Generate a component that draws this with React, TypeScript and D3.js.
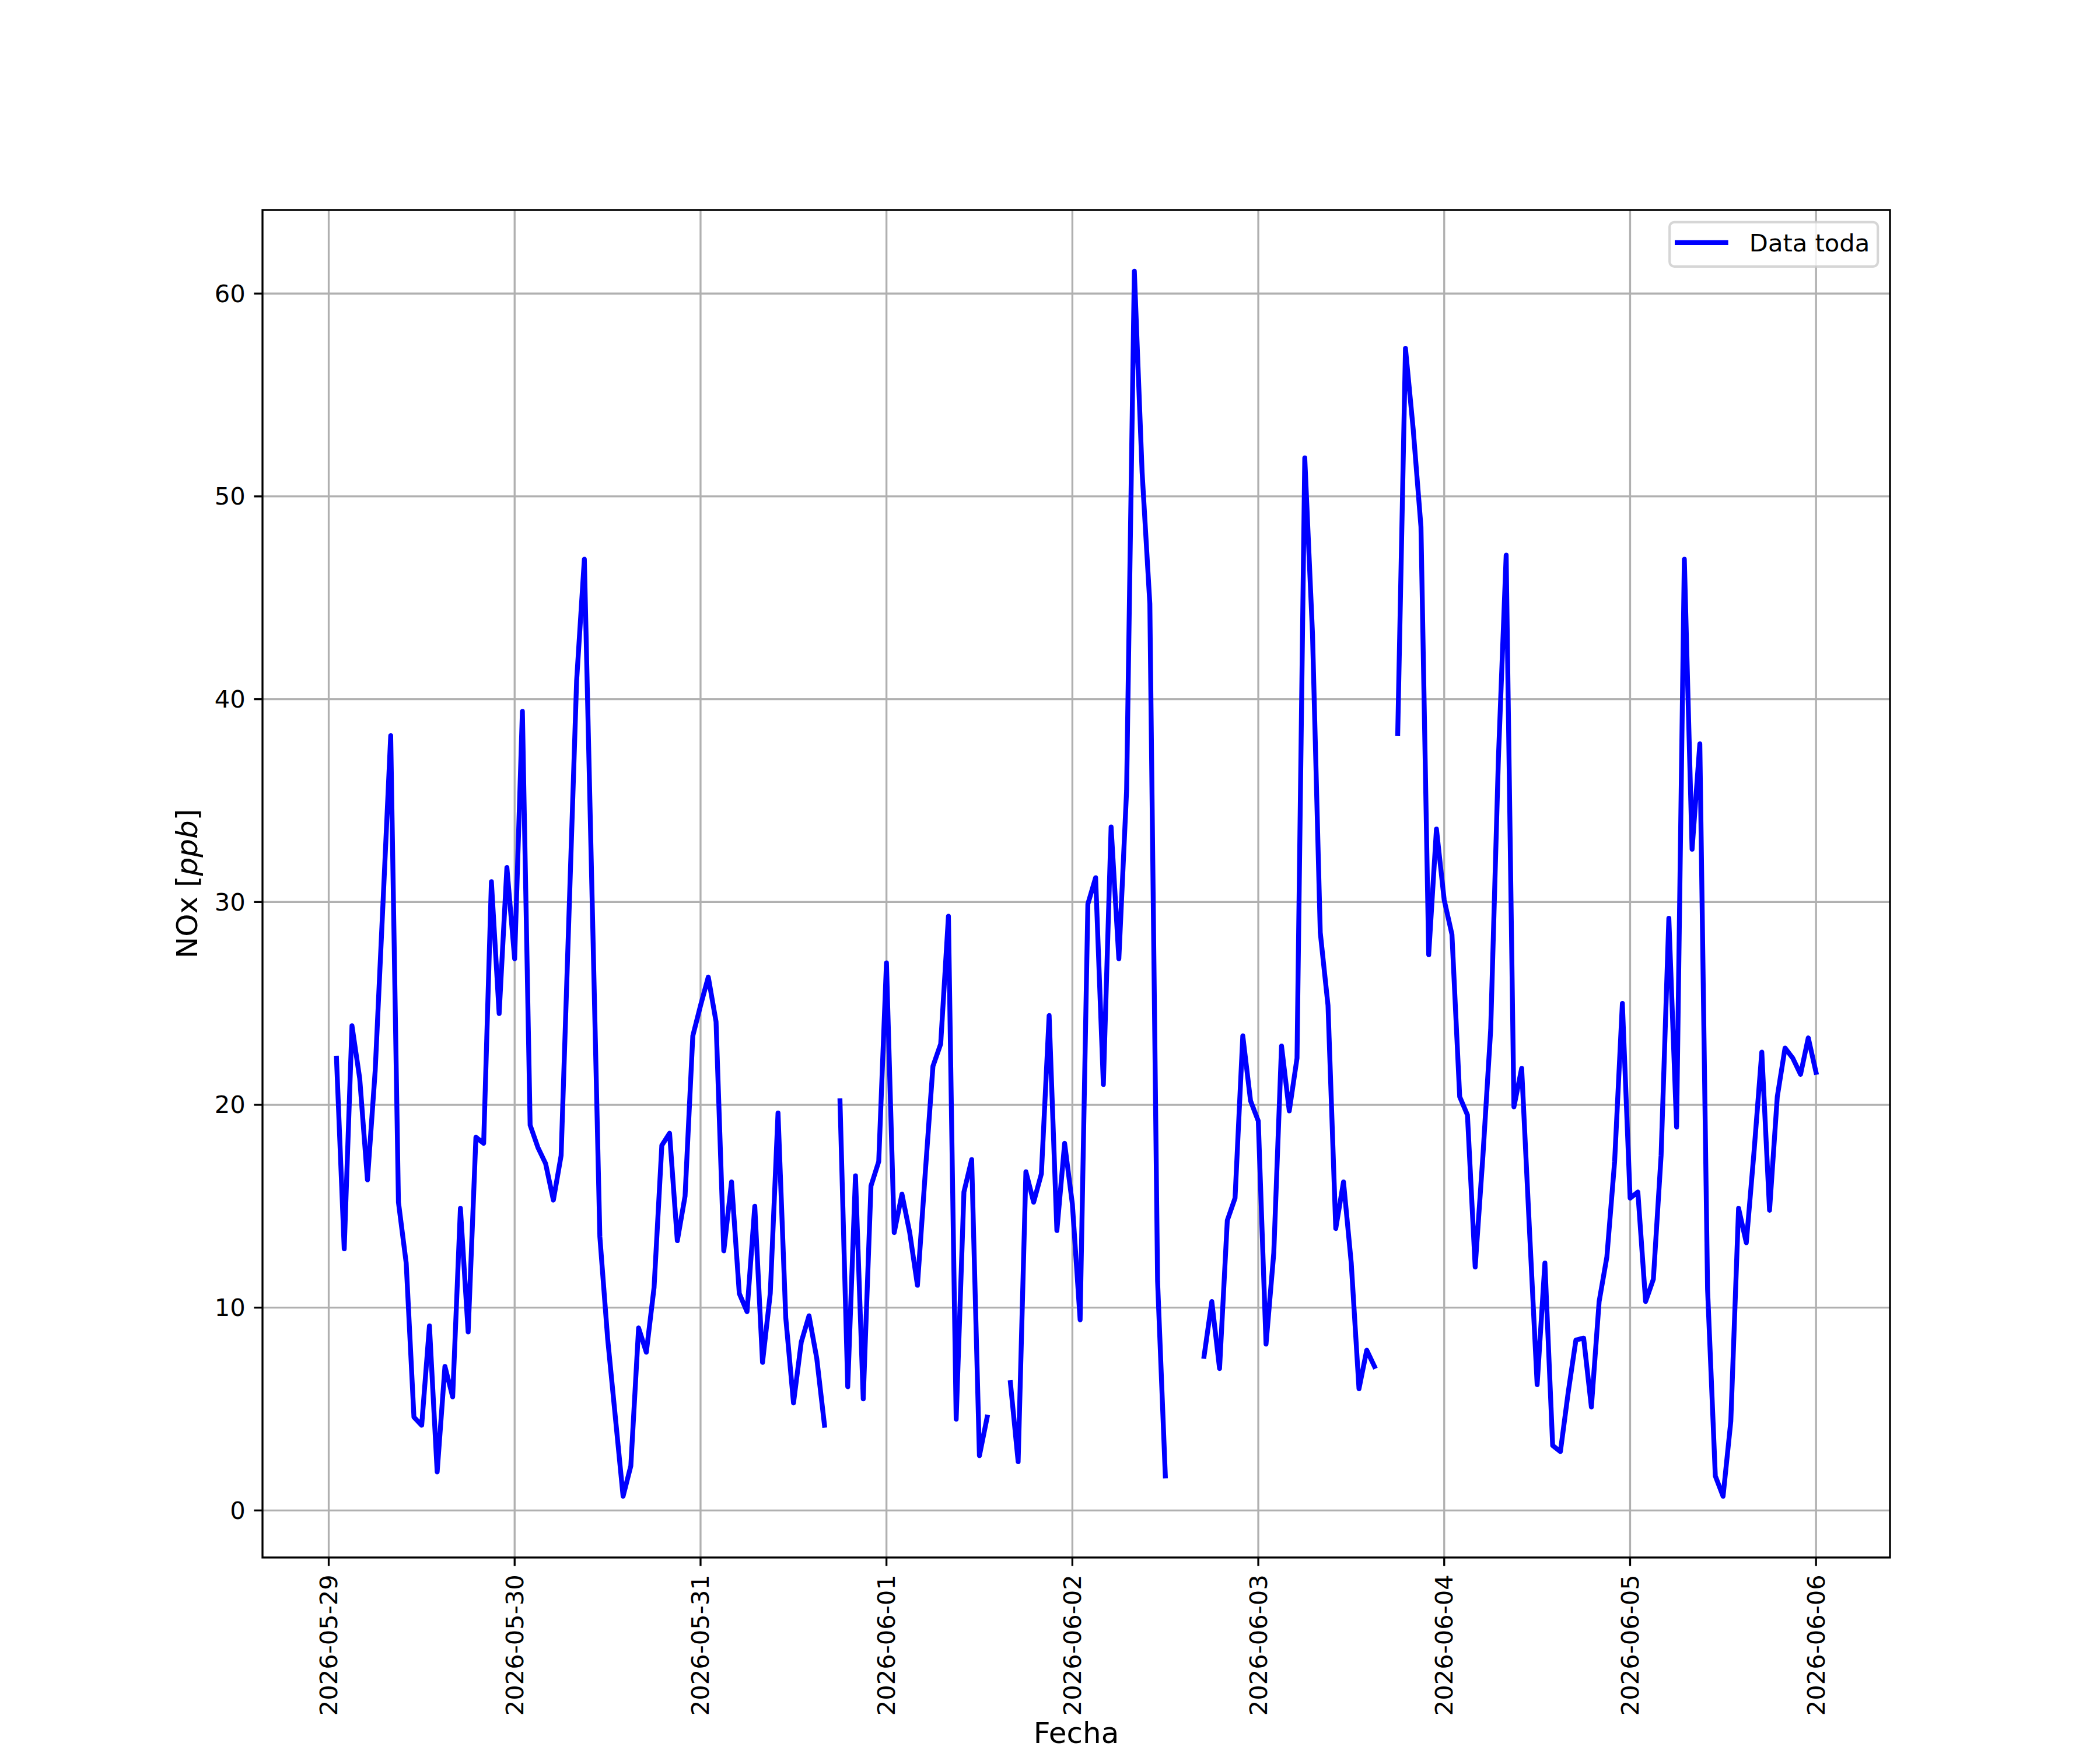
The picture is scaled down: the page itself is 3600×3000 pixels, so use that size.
import React from "react";
import * as d3 from "d3";

// ---- data (hourly NOx, ppb) ----
const START_DAY = "2026-05-29";
const nox_0529 = [null, 22.3, 12.9, 23.9, 21.3, 16.3, 21.7, 29.9, 38.2, 15.2, 12.2, 4.6, 4.2, 9.1, 1.9, 7.1, 5.6, 14.9, 8.8, 18.4, 18.1, 31.0, 24.5, 31.7];
const nox_0530 = [27.2, 39.4, 19.0, 17.9, 17.1, 15.3, 17.5, 29.2, 40.9, 46.9, 30.2, 13.5, 8.5, 4.6, 0.7, 2.2, 9.0, 7.8, 11.0, 18.0, 18.6, 13.3, 15.5, 23.4];
const nox_0531 = [24.9, 26.3, 24.1, 12.8, 16.2, 10.7, 9.8, 15.0, 7.3, 10.7, 19.6, 9.5, 5.3, 8.3, 9.6, 7.5, 4.2, null, 20.2, 6.1, 16.5, 5.5, 16.0, 17.2];
const nox_0601 = [27.0, 13.7, 15.6, 13.7, 11.1, 16.6, 21.9, 23.0, 29.3, 4.5, 15.7, 17.3, 2.7, 4.6, null, null, 6.3, 2.4, 16.7, 15.2, 16.6, 24.4, 13.8, 18.1];
const nox_0602 = [15.1, 9.4, 29.9, 31.2, 21.0, 33.7, 27.2, 35.5, 61.1, 51.2, 44.7, 11.3, 1.7, null, null, null, null, 7.6, 10.3, 7.0, 14.3, 15.4, 23.4, 20.2];
const nox_0603 = [19.2, 8.2, 12.7, 22.9, 19.7, 22.3, 51.9, 43.2, 28.5, 24.9, 13.9, 16.2, 12.2, 6.0, 7.9, 7.1, null, null, 38.3, 57.3, 53.3, 48.5, 27.4, 33.6];
const nox_0604 = [30.1, 28.4, 20.4, 19.5, 12.0, 17.5, 23.7, 37.1, 47.1, 19.9, 21.8, 13.9, 6.2, 12.2, 3.2, 2.9, 5.8, 8.4, 8.5, 5.1, 10.3, 12.5, 17.2, 25.0];
const nox_0605 = [15.4, 15.7, 10.3, 11.4, 17.5, 29.2, 18.9, 46.9, 32.6, 37.8, 10.9, 1.7, 0.7, 4.4, 14.9, 13.2, 17.7, 22.6, 14.8, 20.4, 22.8, 22.3, 21.5, 23.3];
const nox_0606 = [21.6];

const X_TICKS = ["2026-05-29", "2026-05-30", "2026-05-31", "2026-06-01", "2026-06-02", "2026-06-03", "2026-06-04", "2026-06-05", "2026-06-06"];
const Y_TICKS = [0, 10, 20, 30, 40, 50, 60];
const LEGEND_LABEL = "Data toda";
const X_LABEL = "Fecha";

const parseDay = d3.utcParse("%Y-%m-%d");
const allValues: (number | null)[] = [
  ...nox_0529, ...nox_0530, ...nox_0531, ...nox_0601, ...nox_0602,
  ...nox_0603, ...nox_0604, ...nox_0605, ...nox_0606,
];
const t0 = (parseDay(START_DAY) as Date).getTime();
const series = allValues.map((v, i) => ({ date: new Date(t0 + i * 3600 * 1000), v }));

// ---- layout (matplotlib default at 300 dpi, 12x10 in) ----
const W = 3600, H = 3000;
const L = 450, R = 3240, T = 360, B = 2670;
const PT = 300 / 72;
const FONT = "'DejaVu Sans', sans-serif";
const FS = 10 * PT;
const FS_LABEL = 12 * PT;
const TICK = 3.5 * PT;
const PAD = 3.5 * PT;
const LW_AX = 0.8 * PT;
const LW_LINE = 2 * PT;

export default function App() {
  const defined = series.filter((d) => d.v != null);
  const [xmin, xmax] = d3.extent(defined, (d) => d.date.getTime()) as [number, number];
  const [ymin, ymax] = d3.extent(defined, (d) => d.v as number) as [number, number];
  const xm = (xmax - xmin) * 0.05, ym = (ymax - ymin) * 0.05;
  const x = d3.scaleUtc().domain([new Date(xmin - xm), new Date(xmax + xm)]).range([L, R]);
  const y = d3.scaleLinear().domain([ymin - ym, ymax + ym]).range([B, T]);

  const line = d3
    .line<{ date: Date; v: number | null }>()
    .defined((d) => d.v != null)
    .x((d) => x(d.date))
    .y((d) => y(d.v as number));

  const xTicks = X_TICKS.map((s) => ({ s, d: parseDay(s) as Date }));

  // legend geometry
  const legR = R - 0.5 * FS, legT = T + 0.5 * FS;
  const legW = 357, legH = 76;
  const legL = legR - legW;
  const legMidY = legT + legH / 2 - 3;

  return (
    <svg
      width={W}
      height={H}
      viewBox={`0 0 ${W} ${H}`}
      style={{ position: "absolute", left: 0, top: 0, background: "#fff", display: "block" }}
      fontFamily={FONT}
    >
      <rect x={0} y={0} width={W} height={H} fill="#fff" />
      {/* grid */}
      <g stroke="#b0b0b0" strokeWidth={LW_AX}>
        {xTicks.map((t) => (
          <line key={t.s} x1={x(t.d)} x2={x(t.d)} y1={T} y2={B} />
        ))}
        {Y_TICKS.map((v) => (
          <line key={v} x1={L} x2={R} y1={y(v)} y2={y(v)} />
        ))}
      </g>
      {/* data line */}
      <path
        d={line(series) || ""}
        fill="none"
        stroke="#0000ff"
        strokeWidth={LW_LINE}
        strokeLinejoin="round"
        strokeLinecap="square"
      />
      {/* spines */}
      <rect x={L} y={T} width={R - L} height={B - T} fill="none" stroke="#000" strokeWidth={LW_AX} />
      {/* x ticks */}
      <g>
        {xTicks.map((t) => (
          <g key={t.s}>
            <line x1={x(t.d)} x2={x(t.d)} y1={B} y2={B + TICK} stroke="#000" strokeWidth={LW_AX} />
            <text
              transform={`translate(${x(t.d)},${B + TICK + PAD}) rotate(-90)`}
              textAnchor="end"
              dominantBaseline="central"
              fontSize={FS}
              fill="#000"
            >
              {t.s}
            </text>
          </g>
        ))}
      </g>
      {/* y ticks */}
      <g>
        {Y_TICKS.map((v) => (
          <g key={v}>
            <line x1={L - TICK} x2={L} y1={y(v)} y2={y(v)} stroke="#000" strokeWidth={LW_AX} />
            <text
              x={L - TICK - PAD}
              y={y(v)}
              textAnchor="end"
              dominantBaseline="central"
              fontSize={FS}
              fill="#000"
            >
              {v}
            </text>
          </g>
        ))}
      </g>
      {/* axis labels */}
      <text x={(L + R) / 2} y={2988} textAnchor="middle" fontSize={FS_LABEL} fill="#000">
        {X_LABEL}
      </text>
      <text
        transform={`translate(338,${(T + B) / 2}) rotate(-90)`}
        textAnchor="middle"
        fontSize={FS_LABEL}
        fill="#000"
      >
        NOx [<tspan fontStyle="italic">ppb</tspan>]
      </text>
      {/* legend */}
      <g>
        <rect
          x={legL}
          y={legT}
          width={legW}
          height={legH}
          rx={8}
          ry={8}
          fill="#fff"
          fillOpacity={0.8}
          stroke="#cccccc"
          strokeOpacity={0.8}
          strokeWidth={1 * PT}
        />
        <line
          x1={legL + 13}
          x2={legL + 13 + 2 * FS}
          y1={legMidY}
          y2={legMidY}
          stroke="#0000ff"
          strokeWidth={LW_LINE}
          strokeLinecap="square"
        />
        <text x={legL + 20 + 2 * FS + 0.8 * FS} y={legMidY + 0.36 * FS} fontSize={FS} fill="#000">
          {LEGEND_LABEL}
        </text>
      </g>
    </svg>
  );
}
